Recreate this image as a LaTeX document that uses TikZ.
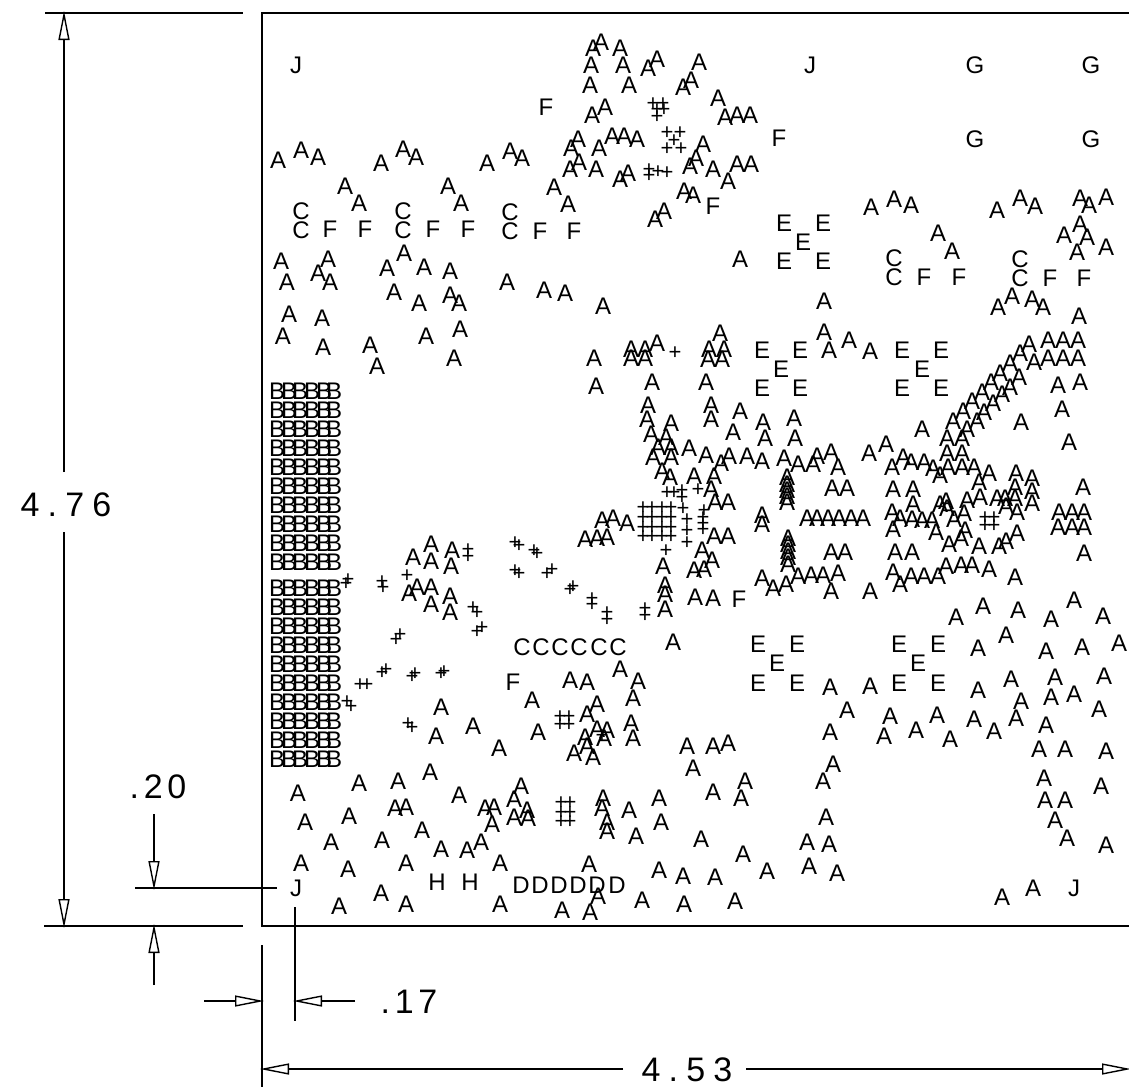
\documentclass[tikz,border=0pt]{standalone}
\usepackage{fontspec}
\setmainfont{Liberation Sans}
\newfontfamily\dimfont[LetterSpace=14]{Liberation Sans}
\newfontfamily\widedimfont[LetterSpace=24]{Liberation Sans}
\usetikzlibrary{arrows.meta}
\tikzstyle{glyph}=[inner sep=0pt,text height=16.5pt,text depth=0pt,font=\fontsize{24}{24}\selectfont]
\tikzstyle{cross}=[inner sep=0pt,text height=15pt,text depth=0pt,font=\fontsize{22}{22}\selectfont]
\tikzstyle{dimlabel}=[inner sep=0pt,text height=25pt,text depth=0pt,font=\fontsize{34}{34}\dimfont]
\tikzstyle{widelabel}=[inner sep=0pt,text height=25pt,text depth=0pt,font=\fontsize{34}{34}\widedimfont]
\tikzstyle{dimline}=[line width=1.4pt,shorten >=-2pt,-{Triangle[open,length=29pt,width=11pt]}]
\tikzstyle{rule}=[line width=1.4pt]

\begin{document}
\begin{tikzpicture}[x=1pt,y=-1pt]
  \useasboundingbox (0,0) rectangle (1129,1087);

  % frame and extension lines
  \coordinate (tl) at (262,13);
  \coordinate (tr) at (1129,13);
  \coordinate (bl) at (262,926);
  \coordinate (br) at (1129,926);
  \draw[rule] (tr) -- (tl) -- (bl) -- (br);
  \coordinate (e1) at (45,13);
  \coordinate (e2) at (243,13);
  \coordinate (e3) at (44,926);
  \coordinate (e4) at (243,926);
  \coordinate (e5) at (135,888);
  \coordinate (e6) at (277,888);
  \coordinate (e7) at (262,945);
  \coordinate (e8) at (262,1087);
  \coordinate (e9) at (295,907);
  \coordinate (e10) at (295,1021);
  \draw[rule] (e1) -- (e2);
  \draw[rule] (e3) -- (e4);
  \draw[rule] (e5) -- (e6);
  \draw[rule] (e7) -- (e8);
  \draw[rule] (e9) -- (e10);

  % dimensions
  \node[widelabel] (h) at (66,504) {4.76};
  \draw[dimline] (64,472) coordinate (h1) -- (64,13) coordinate (h2);
  \draw[dimline] (64,532) coordinate (h3) -- (64,926) coordinate (h4);
  \node[dimlabel] (v) at (158,786) {.20};
  \coordinate (v1) at (154,814);
  \coordinate (v2) at (154,888);
  \coordinate (v3) at (154,985);
  \coordinate (v4) at (154,926);
  \draw[dimline] (v1) -- (v2);
  \draw[dimline] (v3) -- (v4);
  \node[dimlabel] (s) at (409,1001) {.17};
  \coordinate (s1) at (204,1001);
  \coordinate (s2) at (262,1001);
  \coordinate (s3) at (355,1001);
  \coordinate (s4) at (295,1001);
  \draw[dimline] (s1) -- (s2);
  \draw[dimline] (s3) -- (s4);
  \node[widelabel] (w) at (687,1069) {4.53};
  \coordinate (w1) at (623,1069);
  \coordinate (w2) at (262,1069);
  \coordinate (w3) at (746,1069);
  \coordinate (w4) at (1129,1069);
  \draw[dimline] (w1) -- (w2);
  \draw[dimline] (w3) -- (w4);

  % B block
  \foreach \y in {391,410,429,448,467,486,505,524,543,562,588,607,626,645,664,683,702,721,740,759}
  \foreach \x in {277,289,300,312,324,334}
  \node[glyph] (b\x-\y) at (\x,\y) {B};

  \foreach \x/\y [count=\i] in {
    593/48,601/42,620/48,591/65,623/65,648/68,657/59,590/85,629/85,683/87,691/80,592/115,605/107,699/62,
    578/139,571/148,599/148,612/136,624/136,637/139,579/162,570/169,596/169,620/179,628/173,690/166,696/158,703/144,
    554/187,568/204,684/191,693/195,655/219,664/211,718/98,725/117,737/115,750/115,713/169,728/181,737/164,751/164,
    278/160,301/150,318/157,381/163,403/149,416/157,487/163,510/151,522/158,345/186,359/203,448/186,461/203,
    281/261,328/259,318/273,287/282,330/282,404/253,387/268,424/267,450/271,394/292,419/303,450/295,459/303,
    507/282,544/290,565/293,603/306,289/314,322/318,283/336,323/347,370/345,377/366,426/336,460/329,454/358,
    594/358,631/349,645/349,657/343,631/358,645/358,740/259,871/207,894/199,911/205,938/233,952/251,
    997/210,1020/198,1035/206,1080/198,1089/205,1106/197,1080/224,1064/235,1087/237,1077/252,1106/247,
    998/307,1012/296,1032/299,1043/307,1079/316,824/301,824/332,829/350,849/340,870/351,
    1029/344,1048/340,1063/340,1078/340,1034/362,1048/358,1063/358,1078/358,1020/353,1010/363,1000/373,
    1019/377,1058/385,1080/382,720/333,709/349,724/349,708/359,722/359,706/382,
    596/386,652/382,648/405,647/419,711/405,711/419,740/411,733/432,763/422,765/438,794/418,795/438,
    671/423,651/434,666/437,658/447,671/447,653/457,671/457,689/448,706/455,721/463,729/456,747/456,762/461,
    784/458,798/464,813/464,817/456,831/452,838/467,662/471,670/477,694/476,714/476,711/489,715/502,728/502,
    787/477,787/484,787/490,787/496,787/502,832/488,847/488,762/515,762/524,
    807/518,817/518,828/518,839/518,851/518,863/518,602/520,613/518,627/523,585/539,597/538,607/537,714/536,728/536,
    702/550,712/560,694/570,704/569,663/566,665/585,665/594,665/609,695/597,713/598,
    788/538,788/544,788/551,788/557,788/564,831/552,845/552,762/578,773/588,786/584,798/576,811/575,823/575,838/573,831/591,870/591,
    991/382,982/392,972/401,963/411,953/421,1010/387,1002/394,993/403,984/412,977/421,967/429,
    947/438,962/438,947/453,962/453,922/429,1021/422,1062/409,1069/442,886/444,869/453,
    892/467,903/457,911/462,924/462,933/468,940/475,948/467,962/467,974/467,989/473,979/482,1016/473,1032/478,1015/487,1032/491,1083/487,
    893/489,913/489,913/504,892/512,900/518,912/519,922/520,932/520,940/504,946/501,947/508,964/513,954/519,967/500,980/497,
    997/498,1005/498,1006/506,1015/498,1017/512,1032/503,893/529,936/532,965/530,961/538,949/544,979/546,999/546,1006/541,1017/533,
    1059/512,1072/512,1084/512,1058/527,1072/527,1084/527,1084/553,895/552,912/552,
    893/572,900/584,911/576,924/576,938/576,946/566,961/565,972/565,989/569,1015/577,
    956/617,983/606,1018/610,1051/619,1074/600,1103/616,
    431/544,452/550,413/557,431/561,451/566,417/587,431/587,409/593,450/596,431/604,450/612,
    570/680,587/682,620/669,638/681,532/700,633/698,597/704,587/714,631/723,633/738,538/732,597/729,607/730,604/738,585/737,587/746,574/753,593/757,
    441/707,436/736,473/726,499/748,673/642,
    298/793,359/783,398/781,430/772,459/795,305/822,349/816,395/808,406/807,331/842,382/840,422/830,
    301/863,348/869,406/863,441/849,467/850,481/842,500/863,339/906,381/893,406/904,500/904,
    485/808,494/807,514/799,521/786,492/824,514/817,527/810,528/818,603/798,602/808,607/822,607/831,629/810,659/798,661/822,636/836,701/839,
    589/864,659/870,683/876,598/896,590/912,562/910,642/900,684/904,687/746,
    830/687,870/686,847/710,890/716,830/732,884/736,916/730,937/715,950/739,974/719,994/731,978/648,1006/635,1046/651,1082/647,1119/643,
    978/690,1011/679,1055/677,1104/676,1021/701,1051/697,1074/694,1099/709,1016/718,1046/725,1039/749,1065/749,1106/751,1044/778,1101/786,
    1045/800,1065/800,1055/820,1067/838,1106/845,1002/897,1033/888,833/764,823/781,826/817,807/842,829/844,809/866,837/873,
    713/746,728/743,693/768,745/781,713/792,741/798,743/854,767/871,715/877,735/901}
  \node[glyph] (a\i) at (\x,\y) {A};

  \foreach \x/\y [count=\i] in {301/211,301/230,403/211,403/230,510/212,510/231,894/258,894/277,1020/259,1020/278,
    522/647,541/647,560/647,579/647,599/647,618/647}
  \node[glyph] (c\i) at (\x,\y) {C};

  \foreach \x/\y [count=\i] in {521/885,540/885,559/885,578/885,597/885,617/885}
  \node[glyph] (d\i) at (\x,\y) {D};

  \foreach \x/\y [count=\i] in {784/223,823/223,803/242,784/261,823/261,762/350,800/350,781/369,762/388,800/388,
    902/350,941/350,922/369,902/388,941/388,758/644,797/644,777/663,758/683,797/683,899/644,938/644,918/663,899/683,938/683}
  \node[glyph] (e\i) at (\x,\y) {E};

  \foreach \x/\y [count=\i] in {546/107,779/138,713/206,330/229,365/229,433/229,468/229,540/231,574/231,
    924/277,959/277,1050/278,1084/278,739/599,513/682}
  \node[glyph] (f\i) at (\x,\y) {F};

  \foreach \x/\y [count=\i] in {975/65,1091/65,975/139,1091/139}
  \node[glyph] (g\i) at (\x,\y) {G};

  \foreach \x/\y [count=\i] in {437/882,470/882}
  \node[glyph] (k\i) at (\x,\y) {H};

  \foreach \x/\y [count=\i] in {296/65,810/65,296/888,1074/888}
  \node[glyph] (j\i) at (\x,\y) {J};

  \foreach \x/\y [count=\i] in {653/103,663/103,664/109,657/109,657/116,667/132,680/132,674/140,667/148,681/148,
    649/169,649/175,658/171,667/172,675/352,
    643/507,652/507,662/507,671/507,643/517,652/517,662/517,671/517,643/527,652/527,662/527,671/527,643/536,652/536,662/536,671/536,
    667/492,674/492,682/490,682/497,698/489,683/508,687/519,687/530,687/542,704/510,703/517,703/523,703/529,666/550,
    592/598,592/604,607/612,607/619,645/608,645/615,985/517,994/517,985/525,994/525,
    468/549,468/556,348/579,346/583,382/581,383/587,407/575,515/542,519/545,534/550,537/553,515/570,519/573,552/569,547/573,
    573/586,570/589,473/607,477/612,482/627,477/631,400/634,396/639,386/669,382/672,415/673,412/676,444/671,441/673,
    360/684,367/684,347/701,351/706,408/723,412/727,560/716,569/716,560/724,569/724,602/735,
    561/802,570/802,561/812,570/812,561/821,570/821}
  \node[cross] (p\i) at (\x,\y) {+};
\end{tikzpicture}
\end{document}
